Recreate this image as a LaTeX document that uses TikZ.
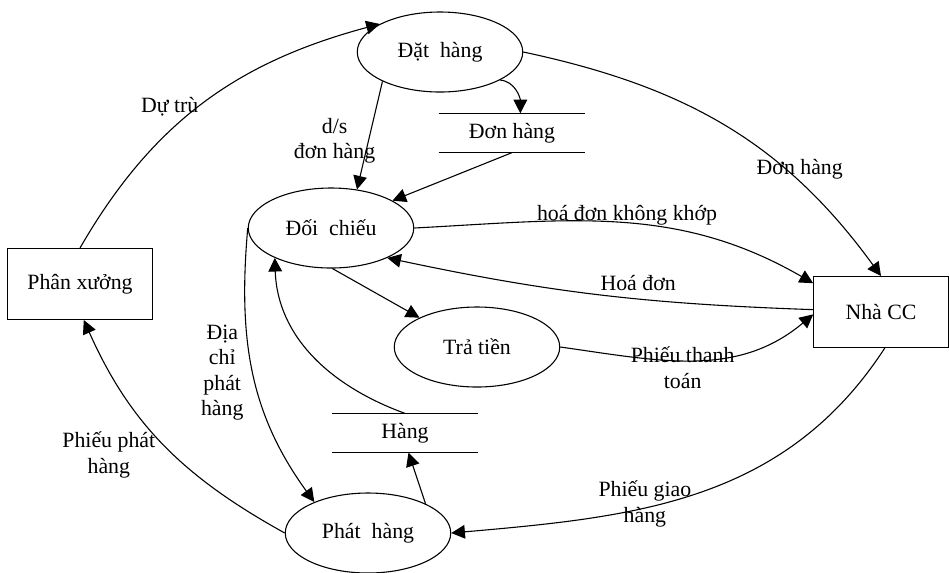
\documentclass[tikz,border=0pt]{standalone}
\usepackage{fontspec}
\setmainfont{Liberation Serif}
\usetikzlibrary{
  arrows.meta,
  positioning,
  shapes.geometric,
}
\tikzset{
  >={Triangle[width=7.5pt,length=7.5pt]},
}

\begin{document}
\begin{tikzpicture}[
      x=0.55pt, y=-0.55pt,
      line width=0.6pt,
      every node/.style={
        align=center,
      },
      process/.style={draw,
        ellipse,
        inner sep=0pt,
        minimum width=91pt,
        minimum height=44pt,
      },
      entity/.style={draw,
        minimum width=74pt,
        minimum height=39pt,
      },
      store/.style={
        minimum width=80pt,
        minimum height=21pt,
      },
      ]
      \fontsize{12pt}{14pt}\selectfont
      \useasboundingbox (0,0) rectangle (949,572);

      \node[process] (dathang) at (440,52) {Đặt\ \ hàng};
      \node[process] (doichieu) at (331,228) {Đối\ \ chiếu};
      \node[process] (tratien) at (477,347) {Trả tiền};
      \node[process] (phathang) at (368,533) {Phát\ \ hàng};

      \node[store] (donhang) at (512,133) {Đơn hàng};
      \node[store] (hang) at (405,433) {Hàng};
      \foreach \s in {donhang,hang}
        \draw (\s.north west) -- (\s.north east) (\s.south west) -- (\s.south east);

      \node[entity, minimum width=80pt] (phanxuong) at (80,284) {Phân xưởng};
      \node[entity] (nhacc) at (881,312) {Nhà CC};

      \path[->]
      (phanxuong.north) edge[out=60, in=195] node[pos=0.5, left=-1pt, yshift=-2pt] {Dự trù} (dathang.155)
      (dathang.east) edge[out=-12, in=126] node[pos=0.68, xshift=8pt] {Đơn hàng} (nhacc.north)
      (dathang.-25) edge[out=-5, in=90] (donhang.67)
      (dathang.207) edge node[pos=0.55, left=-8pt] {d/s\\đơn hàng} (doichieu.56)
      (donhang.south) edge (doichieu.24)

      (doichieu.east) edge[out=3, in=150] node[pos=0.5, xshift=3pt, yshift=4pt] {hoá đơn không khớp} (nhacc.157)
      (nhacc.178) edge[out=178, in=-12] node[pos=0.4, above] {Hoá đơn} (doichieu.-28)
      (doichieu.-88) edge (tratien.153)
      (tratien.east) edge[out=-8, in=220] node[pos=0.45, yshift=-4pt] {Phiếu thanh\\toán} (nhacc.182)

      (doichieu.west) edge[out=-95, in=126] node[pos=0.5, left=1pt] {Địa\\chỉ\\phát\\hàng} (phathang.150)
      (hang.north) edge[out=160, in=-88] (doichieu.208)
      (phathang.27) edge (hang.-80)
      (nhacc.-84) edge[out=-123, in=5] node[pos=0.62, yshift=2pt] {Phiếu giao\\hàng} (phathang.east)
      (phathang.west) edge[out=151, in=-66] node[pos=0.45, left=6pt] {Phiếu phát\\hàng} (phanxuong.-84)
      ;
\end{tikzpicture}
\end{document}
